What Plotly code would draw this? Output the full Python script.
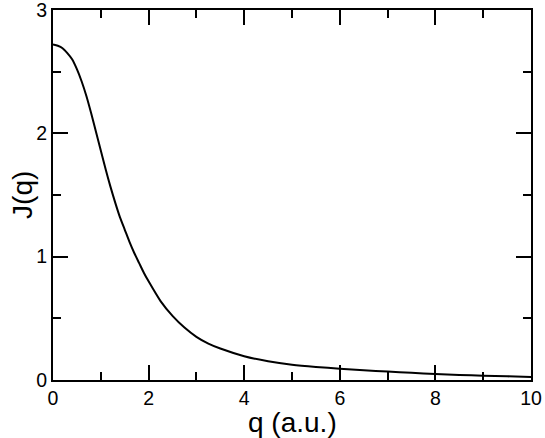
"""Compton profile J(q) line chart."""

import plotly.graph_objects as go

# ─── Data ────────────────────────────────────────────────────────────────────

q_vals = [0.0, 0.1, 0.2, 0.3, 0.4, 0.5, 0.6, 0.7, 0.8, 0.9, 1.0, 1.1, 1.2, 1.3,
          1.4, 1.5, 1.6, 1.7, 1.8, 1.9, 2.0, 2.25, 2.5, 2.75, 3.0, 3.25, 3.5,
          4.0, 4.5, 5.0, 5.5, 6.0, 6.5, 7.0, 7.5, 8.0, 8.5, 9.0, 9.5, 10.0]
j_vals = [2.72, 2.71, 2.69, 2.65, 2.60, 2.52, 2.42, 2.30, 2.16, 2.01, 1.86,
          1.71, 1.57, 1.44, 1.32, 1.22, 1.12, 1.03, 0.95, 0.87, 0.80, 0.64,
          0.52, 0.425, 0.350, 0.295, 0.255, 0.193, 0.152, 0.124, 0.106,
          0.092, 0.080, 0.068, 0.058, 0.049, 0.041, 0.035, 0.030, 0.025]

x_title = "q (a.u.)"
y_title = "J(q)"

FONT = "Liberation Sans, Arial, Helvetica, sans-serif"

fig = go.Figure(go.Scatter(
    x=q_vals, y=j_vals,
    mode="lines",
    line=dict(color="#000000", width=2, shape="spline", smoothing=0.6),
    showlegend=False,
))

axis_common = dict(
    showline=True, linecolor="#000000", linewidth=2,
    mirror="allticks",
    ticks="inside", ticklen=15, tickwidth=2, tickcolor="#000000",
    showgrid=False, zeroline=False, automargin=False,
    ticklabeloverflow="allow",
    tickfont=dict(size=19.5, color="#000000", family=FONT),
)

fig.update_xaxes(
    range=[0, 10], dtick=2, tick0=0,
    minor=dict(ticks="inside", ticklen=8, tickwidth=2, tickcolor="#000000", dtick=1),
    **axis_common,
)
fig.update_yaxes(
    range=[0, 3], dtick=1, tick0=0,
    minor=dict(ticks="inside", ticklen=8, tickwidth=2, tickcolor="#000000", dtick=0.5),
    **axis_common,
)

# axis titles as annotations so they sit exactly where the reference has them
fig.add_annotation(
    text=x_title, xref="paper", yref="paper", x=0.5, y=-0.114,
    xanchor="center", yanchor="middle", showarrow=False,
    font=dict(size=28, color="#000000", family=FONT),
)
fig.add_annotation(
    text=y_title, xref="paper", yref="paper", x=-0.065, y=0.5,
    xanchor="center", yanchor="middle", showarrow=False, textangle=-90,
    font=dict(size=28, color="#000000", family=FONT),
)

fig.update_layout(
    width=545, height=438,
    margin=dict(l=53, r=14, t=10, b=58),
    paper_bgcolor="#ffffff", plot_bgcolor="#ffffff",
    font=dict(family=FONT, color="#000000"),
)

# drop the default page margin so the figure sits at the window's corner
fig.write_html(
    "out.html",
    config={"displayModeBar": False},
    post_script="document.body.style.margin = '0';",
)
